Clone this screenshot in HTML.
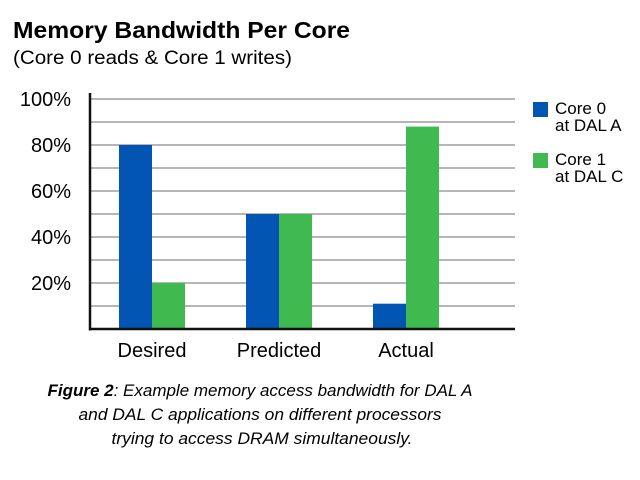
<!DOCTYPE html>
<html><head><meta charset="utf-8"><style>
html,body{margin:0;padding:0;background:#fff;}
svg{display:block;font-family:"Liberation Sans",sans-serif;}
</style></head><body>
<svg id="chart" width="640" height="480" viewBox="0 0 640 480">
<text x="13" y="38" font-size="23" font-weight="bold" textLength="337" lengthAdjust="spacingAndGlyphs">Memory Bandwidth Per Core</text>
<text x="13" y="64" font-size="19" textLength="279" lengthAdjust="spacingAndGlyphs">(Core 0 reads &amp; Core 1 writes)</text>
<g id="grid"></g>
<g id="bars"></g>
<g id="axes"></g>
<g>
<rect x="533" y="102" width="15" height="15" fill="#0355b3"/>
<text x="555" y="114" font-size="17">Core 0</text>
<text x="555" y="131" font-size="17">at DAL A</text>
<rect x="533" y="153" width="15" height="15" fill="#3fb950"/>
<text x="555" y="165" font-size="17">Core 1</text>
<text x="555" y="182" font-size="17">at DAL C</text>
</g>
<g font-size="17" font-style="italic" text-anchor="middle">
<text x="260" y="396" textLength="425" lengthAdjust="spacingAndGlyphs"><tspan font-weight="bold">Figure 2</tspan>: Example memory access bandwidth for DAL A</text>
<text x="260" y="420" textLength="363" lengthAdjust="spacingAndGlyphs">and DAL C applications on different processors</text>
<text x="262" y="444" textLength="301" lengthAdjust="spacingAndGlyphs">trying to access DRAM simultaneously.</text>
</g>
</svg>
<script>
const categories = ["Desired", "Predicted", "Actual"];
const core0Values = [80, 50, 11];
const core1Values = [20, 50, 88];
const yTickValues = [20, 40, 60, 80, 100];
const yTickLabels = ["20%", "40%", "60%", "80%", "100%"];
const gridValues = [10, 20, 30, 40, 50, 60, 70, 80, 90, 100];

const NS = "http://www.w3.org/2000/svg";
const x0 = 90, x1 = 515, yBase = 329, yTop = 99;
function y(v){ return yBase - (yBase - yTop) * v / 100; }
function groupX(i){ return 119 + i * 127; }
const barW = 33;
function mk(tag, attrs, parent){
  const e = document.createElementNS(NS, tag);
  for (const k in attrs) e.setAttribute(k, attrs[k]);
  parent.appendChild(e); return e;
}
const grid = document.getElementById('grid');
gridValues.forEach(v => {
  const l = mk('line', {x1: x0, x2: x1, y1: y(v), y2: y(v), stroke: '#8a8a8a', 'stroke-width': 1.3}, grid);
  
  
});
const bars = document.getElementById('bars');
categories.forEach((c, i) => {
  const gx = groupX(i);
  const b0 = mk('rect', {x: gx, y: y(core0Values[i]), width: barW, height: yBase - y(core0Values[i]), fill: '#0355b3'}, bars);
  
  
  const b1 = mk('rect', {x: gx + barW, y: y(core1Values[i]), width: barW, height: yBase - y(core1Values[i]), fill: '#3fb950'}, bars);
  
  
  const t = mk('text', {x: gx + barW, y: 357, 'font-size': 20, 'text-anchor': 'middle'}, bars);
  t.textContent = c;
  
  
});
const axes = document.getElementById('axes');
const ya = mk('line', {x1: x0, x2: x0, y1: 93, y2: yBase + 1.5, stroke: '#111', 'stroke-width': 2.5}, axes);


const xa = mk('line', {x1: x0 - 1, x2: x1, y1: yBase, y2: yBase, stroke: '#111', 'stroke-width': 2.5}, axes);


yTickValues.forEach((v, i) => {
  const t = mk('text', {x: 71, y: y(v) + 7, 'font-size': 20, 'text-anchor': 'end'}, axes);
  t.textContent = yTickLabels[i];
  
  
});
</script>
</body></html>
